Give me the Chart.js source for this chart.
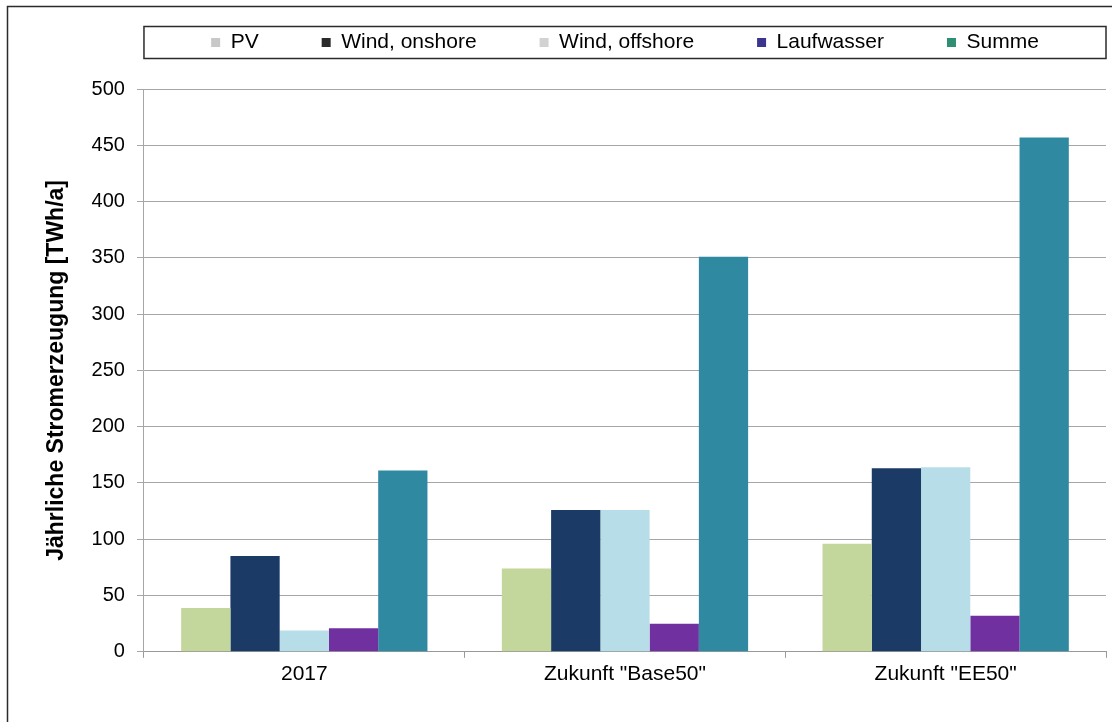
<!DOCTYPE html>
<html>
<head>
<meta charset="utf-8">
<script src="https://cdn.jsdelivr.net/npm/chart.js@4.4.1/dist/chart.umd.min.js"></script>
<style>
  html, body { margin: 0; padding: 0; background: #fff; }
  #wrap { width: 1112px; height: 722px; }
</style>
</head>
<body>
<div id="wrap"><canvas id="chart"></canvas></div>
<script>
var categories = ['2017', 'Zukunft "Base50"', 'Zukunft "EE50"'];
var seriesNames = ['PV', 'Wind, onshore', 'Wind, offshore', 'Laufwasser', 'Summe'];
var pv = [39, 74, 96];
var windOnshore = [85, 126, 163];
var windOffshore = [19, 126, 164];
var laufwasser = [21, 25, 32];
var summe = [161, 351, 457];
var yTicks = [0, 50, 100, 150, 200, 250, 300, 350, 400, 450, 500];

var barColors = ['#c3d69b', '#1b3a66', '#b7dde8', '#7030a0', '#2f89a0'];
var legendColors = ['#c8c8c8', '#2a2a2a', '#d2d2d2', '#3b3590', '#2f8f72'];
var FONT = '"Liberation Sans", Arial, sans-serif';
var LEGEND_PAD = 63;
var LEGEND_FONT = 21;

var values = [pv, windOnshore, windOffshore, laufwasser, summe];

// Rahmen um das ganze Bild und um die Legende
var framePlugin = {
  id: 'frame',
  afterDraw: function (chart) {
    var ctx = chart.ctx;
    ctx.save();
    ctx.strokeStyle = '#2b2b2b';
    ctx.lineWidth = 1.5;
    ctx.beginPath();
    ctx.moveTo(7.5, 722);
    ctx.lineTo(7.5, 6.5);
    ctx.lineTo(1112, 6.5);
    ctx.stroke();
    var lg = chart.legend;
    var cy = lg.top + LEGEND_PAD + LEGEND_FONT / 2;
    ctx.strokeRect(chart.chartArea.left, cy - 16, chart.chartArea.right - chart.chartArea.left, 32);
    ctx.restore();
  }
};

new Chart(document.getElementById('chart'), {
  type: 'bar',
  data: {
    labels: categories,
    datasets: seriesNames.map(function (name, i) {
      return {
        label: name,
        data: values[i],
        backgroundColor: barColors[i],
        borderWidth: 0,
        barPercentage: 1,
        categoryPercentage: 0.768
      };
    })
  },
  options: {
    responsive: true,
    maintainAspectRatio: false,
    animation: false,
    layout: { padding: { left: 0, right: 6, top: -31, bottom: 31 } },
    plugins: {
      tooltip: { enabled: false },
      title: {
        display: true,
        text: '',
        weight: 500,
        font: { size: 10 },
        padding: { top: 0, bottom: 14 }
      },
      legend: {
        position: 'top',
        fullSize: false,
        labels: {
          boxWidth: 9,
          boxHeight: 9,
          padding: LEGEND_PAD,
          color: '#000',
          font: { family: FONT, size: LEGEND_FONT },
          generateLabels: function (chart) {
            var items = Chart.defaults.plugins.legend.labels.generateLabels(chart);
            items.forEach(function (it, i) {
              it.fillStyle = legendColors[i];
              it.strokeStyle = legendColors[i];
              it.lineWidth = 0;
            });
            return items;
          }
        }
      }
    },
    scales: {
      x: {
        grid: { display: true, drawOnChartArea: false, tickLength: 6, color: '#999' },
        border: { color: '#999', width: 1 },
        ticks: { color: '#000', padding: 4, font: { family: FONT, size: 21 } }
      },
      y: {
        min: 0,
        max: 500,
        afterBuildTicks: function (axis) {
          axis.ticks = yTicks.map(function (v) { return { value: v }; });
        },
        grid: { color: '#a6a6a6', lineWidth: 1, tickLength: 7 },
        border: { color: '#a6a6a6', width: 1 },
        ticks: { color: '#000', padding: 12, font: { family: FONT, size: 20 } },
        title: {
          display: true,
          text: 'Jährliche Stromerzeugung [TWh/a]',
          color: '#000',
          font: { family: FONT, size: 23, weight: 'bold' },
          padding: { top: 43, bottom: 9 }
        }
      }
    }
  },
  plugins: [framePlugin]
});
</script>
</body>
</html>
